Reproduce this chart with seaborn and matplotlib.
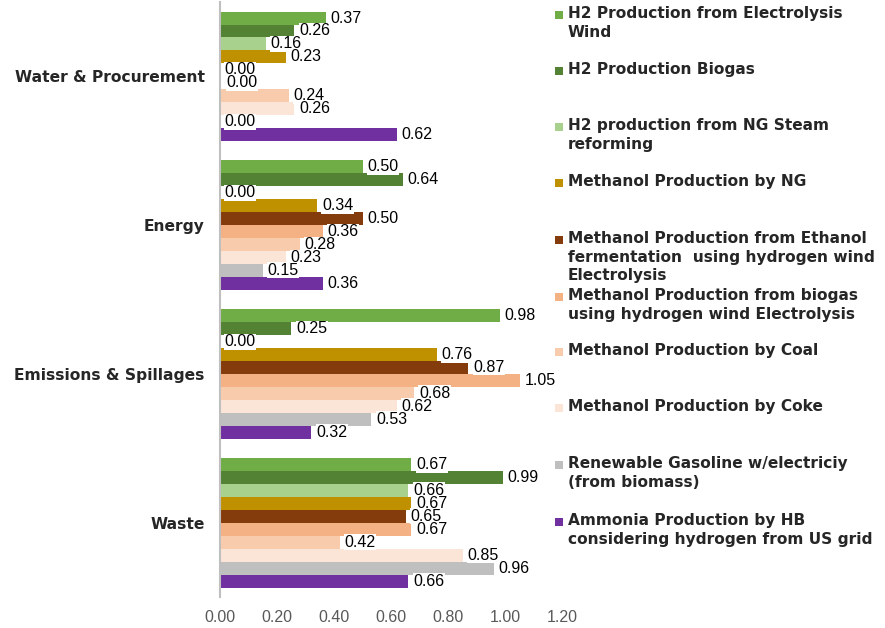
import pandas as pd
import matplotlib.pyplot as plt
import seaborn as sns
from matplotlib.patches import Rectangle

# categories (top to bottom) and series
categories = ["Water & Procurement", "Energy", "Emissions & Spillages", "Waste"]
series = [
    "H2 Production from Electrolysis\nWind",
    "H2 Production Biogas",
    "H2 production from NG Steam\nreforming",
    "Methanol Production by NG",
    "Methanol Production from Ethanol\nfermentation  using hydrogen wind\nElectrolysis",
    "Methanol Production from biogas\nusing hydrogen wind Electrolysis",
    "Methanol Production by Coal",
    "Methanol Production by Coke",
    "Renewable Gasoline w/electriciy\n(from biomass)",
    "Ammonia Production by HB\nconsidering hydrogen from US grid",
]
colors = ["#70AD47", "#548235", "#A9D18E", "#BF9000", "#843C0C",
          "#F4B183", "#F8CBAD", "#FBE5D6", "#BFBFBF", "#7030A0"]

# values per category, in series order
water = [0.37, 0.26, 0.16, 0.23, 0.00, 0.004, 0.24, 0.26, 0.00, 0.62]
energy = [0.50, 0.64, 0.00, 0.34, 0.50, 0.36, 0.28, 0.23, 0.15, 0.36]
emissions = [0.98, 0.25, 0.00, 0.76, 0.87, 1.05, 0.68, 0.62, 0.53, 0.32]
waste = [0.67, 0.99, 0.66, 0.67, 0.65, 0.67, 0.42, 0.85, 0.96, 0.66]
xticks = [0.0, 0.2, 0.4, 0.6, 0.8, 1.0, 1.2]

rows = []
for cat, vals in zip(categories, [water, energy, emissions, waste]):
    for s, v in zip(series, vals):
        rows.append({"category": cat, "series": s, "value": v})
df = pd.DataFrame(rows)

sns.set_style("white")
fig = plt.figure(figsize=(8.85, 6.28), dpi=100)
ax = fig.add_axes([0.2486, 0.049, 0.387, 0.948])

sns.barplot(data=df, x="value", y="category", hue="series", order=categories,
            hue_order=series, palette=colors, orient="h", width=0.87,
            saturation=1, legend=False, linewidth=0, ax=ax)

for cont in ax.containers:
    ax.bar_label(cont, fmt="%.2f", padding=3.5, fontsize=11.5,
                 family="Liberation Sans", color="black",
                 bbox=dict(facecolor="white", edgecolor="none", pad=0.3))

ax.set_xlim(0, 1.2)
ax.set_ylim(3.5, -0.5)
ax.set_xticks(xticks)
ax.set_xticklabels([f"{t:.2f}" for t in xticks], family="Liberation Sans",
                   fontsize=11.5, color="#595959")
ax.set_yticks(range(len(categories)))
ax.set_yticklabels(categories, fontsize=11.2, fontweight="bold", color="#262626")
ax.tick_params(axis="x", length=0, pad=9)
ax.tick_params(axis="y", length=0, pad=11)
ax.set_xlabel("")
ax.set_ylabel("")
for side in ["top", "right", "bottom"]:
    ax.spines[side].set_visible(False)
ax.spines["left"].set_color("#BFBFBF")
ax.spines["left"].set_linewidth(1.5)

# legend drawn as a fixed column to keep the even spacing of the original
leg_y = [15, 71, 127, 183, 240, 297, 352, 408, 465, 522]
W, H = 885, 628
for s, c, y in zip(series, colors, leg_y):
    fig.add_artist(Rectangle(((555) / W, 1 - (y + 4) / H), 8 / W, 8 / H,
                             transform=fig.transFigure, facecolor=c,
                             edgecolor="none"))
    fig.text(568 / W, 1 - (y - 9) / H, s, fontsize=11.1, fontweight="bold",
             color="#262626", va="top", ha="left", linespacing=1.3)

fig.savefig("out.png", dpi=100)
